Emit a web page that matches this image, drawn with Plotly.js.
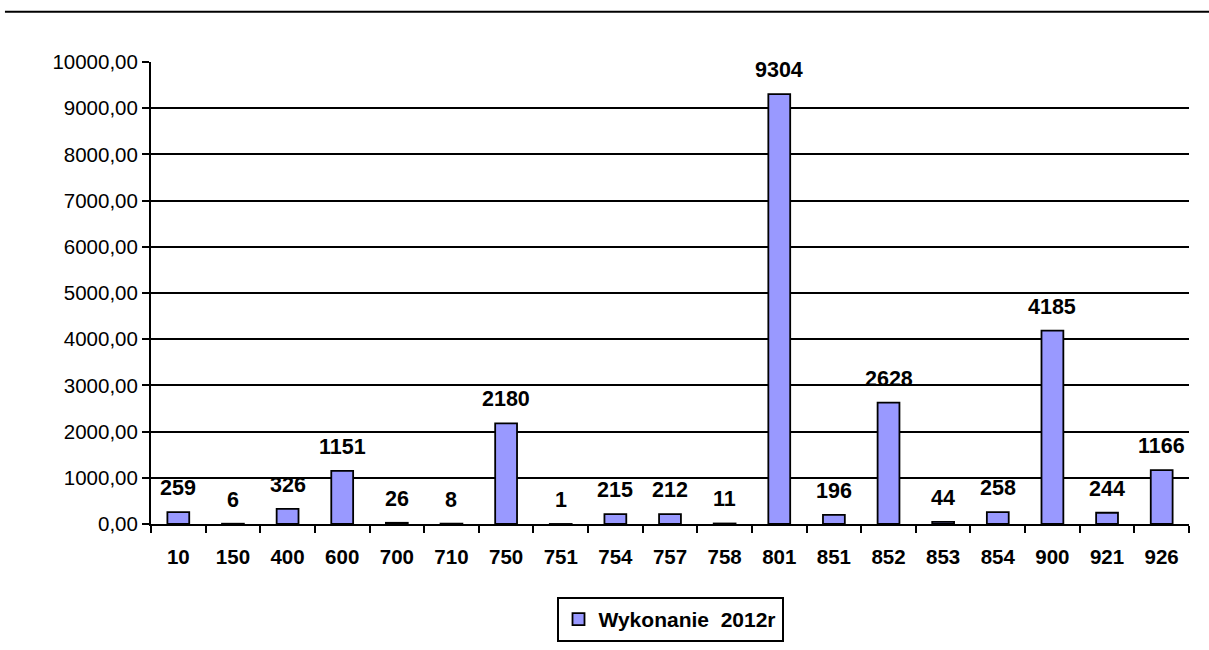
<!DOCTYPE html>
<html>
<head>
<meta charset="utf-8">
<script src="https://cdn.plot.ly/plotly-3.0.1.min.js"></script>
<style>
  html, body { margin: 0; padding: 0; background: #ffffff; }
  #chart { width: 1209px; height: 650px; }
</style>
</head>
<body>
<div id="chart"></div>
<script>
// ---- data ----
const categories = ["10", "150", "400", "600", "700", "710", "750", "751", "754", "757", "758", "801", "851", "852", "853", "854", "900", "921", "926"];
const values = [259, 6, 326, 1151, 26, 8, 2180, 1, 215, 212, 11, 9304, 196, 2628, 44, 258, 4185, 244, 1166];
const seriesName = "Wykonanie\u00a0 2012r";
const yTickValues = [0, 1000, 2000, 3000, 4000, 5000, 6000, 7000, 8000, 9000, 10000];

// ---- chart ----
const fontFamily = '"Liberation Sans", Arial, sans-serif';

const trace = {
  type: 'bar',
  x: categories,
  y: values,
  name: seriesName,
  marker: { color: '#9999FF', line: { color: '#000000', width: 1.8 } },
  hoverinfo: 'x+y',
  showlegend: true
};

// annotations placed at category index (category axis) above each bar
const annotations = categories.map((c, i) => ({
  x: i,
  y: values[i],
  xref: 'x',
  yref: 'y',
  text: String(values[i]),
  showarrow: false,
  yanchor: 'middle',
  yshift: 24,
  font: { family: fontFamily, size: 21.5, color: '#000000', weight: 'bold' }
}));

const layout = {
  width: 1209,
  height: 650,
  paper_bgcolor: '#ffffff',
  plot_bgcolor: '#ffffff',
  margin: { l: 151, r: 20, t: 62, b: 126, pad: 0, autoexpand: false },
  separators: ', ',
  bargap: 0.6,
  font: { family: fontFamily, color: '#000000' },
  xaxis: {
    type: 'category',
    categoryorder: 'array',
    categoryarray: categories,
    range: [-0.5, categories.length - 0.5],
    showline: true,
    linecolor: '#000000',
    linewidth: 2,
    ticks: 'outside',
    tickson: 'boundaries',
    ticklen: 7,
    tickwidth: 2,
    tickcolor: '#000000',
    tickangle: 0,
    showgrid: false,
    zeroline: false,
    automargin: false,
    ticklabelstandoff: 13,
    tickfont: { family: fontFamily, size: 20.5, color: '#000000', weight: 'bold' }
  },
  yaxis: {
    range: [0, 10000],
    tickvals: yTickValues,
    tickformat: '.2f',
    showline: true,
    linecolor: '#000000',
    linewidth: 2,
    ticks: 'outside',
    ticklen: 7,
    tickwidth: 2,
    tickcolor: '#000000',
    showgrid: true,
    gridcolor: '#000000',
    gridwidth: 2,
    zeroline: false,
    automargin: false,
    tickfont: { family: fontFamily, size: 20.5, color: '#000000' }
  },
  showlegend: true,
  legend: {
    orientation: 'h',
    x: 0.5,
    xanchor: 'center',
    yref: 'container',
    y: 0.0815,
    yanchor: 'top',
    bordercolor: '#000000',
    borderwidth: 2,
    bgcolor: '#ffffff',
    font: { family: fontFamily, size: 21, color: '#000000', weight: 'bold' }
  },
  shapes: [{
    type: 'line',
    xref: 'paper',
    yref: 'paper',
    x0: -0.1407,
    x1: 1.0193,
    y0: 1.109,
    y1: 1.109,
    line: { color: '#000000', width: 2 }
  }],
  annotations: annotations
};

Plotly.newPlot('chart', [trace], layout, { displayModeBar: false, staticPlot: true });
</script>
</body>
</html>
